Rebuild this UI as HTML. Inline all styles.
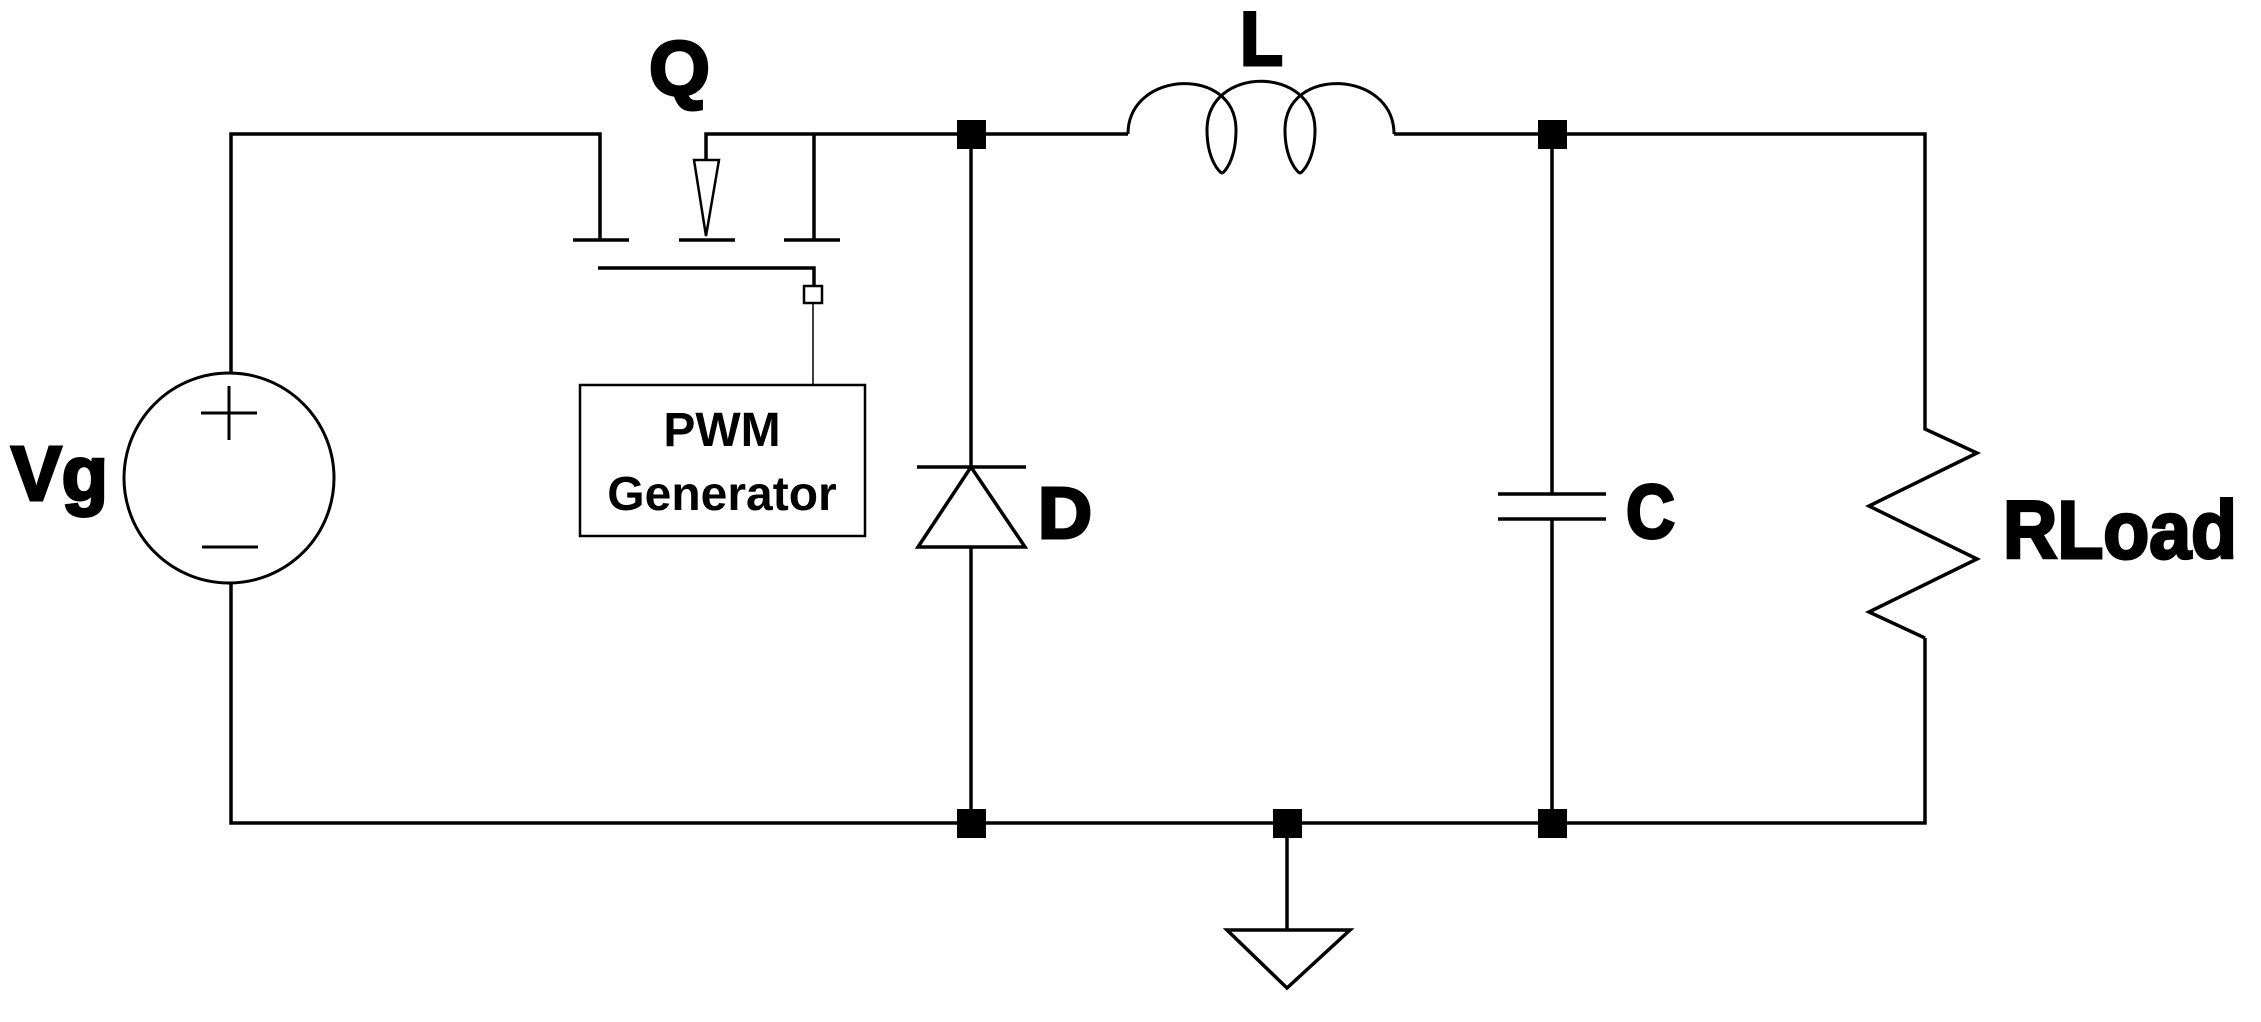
<!DOCTYPE html>
<html><head><meta charset="utf-8"><style>
html,body{margin:0;padding:0;background:#fff;}
svg{display:block;}
.lbl{font-family:"Liberation Sans",sans-serif;font-weight:bold;fill:#000;stroke:#000;stroke-width:3;}
</style></head><body>
<svg width="2261" height="1022" viewBox="0 0 2261 1022" xmlns="http://www.w3.org/2000/svg">
<g fill="none" stroke="#000" stroke-width="3.5" stroke-linejoin="miter">
<polyline points="600,240 600,134 231,134 231,373"/>
<polyline points="231,583 231,823 1925,823 1925,638"/>
<circle cx="229" cy="478" r="105" stroke-width="3"/>
<line x1="201" y1="413" x2="257" y2="413" stroke-width="3"/>
<line x1="229" y1="386" x2="229" y2="440" stroke-width="3"/>
<line x1="202" y1="547" x2="258" y2="547" stroke-width="3"/>
<line x1="573" y1="240" x2="629" y2="240"/>
<line x1="679" y1="240" x2="735" y2="240"/>
<line x1="784" y1="240" x2="840" y2="240"/>
<polyline points="706,160 706,134 1128,134"/>
<line x1="814" y1="134" x2="814" y2="240"/>
<polygon points="694,160 719,160 706,236" stroke-width="2.5"/>
<polyline points="598,268 814,268 814,285"/>
<rect x="804" y="286" width="18" height="17" stroke-width="2.5"/>
<line x1="813" y1="304" x2="813" y2="385" stroke-width="1.5"/>
<rect x="580" y="385" width="285" height="151" stroke-width="2.5"/>
<line x1="971" y1="134" x2="971" y2="823"/>
<line x1="917" y1="467" x2="1026" y2="467"/>
<polygon points="971,467 918,547 1025,547" fill="#fff"/>
<path d="M1128,134 C1128,70 1236,65 1236,130 C1236,160 1224,173 1222,173 C1220,173 1207,160 1207,130 C1207,65 1315,65 1315,130 C1315,160 1302,173 1300,173 C1298,173 1285,160 1285,130 C1285,65 1394,70 1394,134" stroke-width="3"/>
<polyline points="1394,134 1925,134 1925,429 1977,453 1869,506 1977,559 1869,612 1925,638"/>
<line x1="1552" y1="134" x2="1552" y2="494"/>
<line x1="1552" y1="519" x2="1552" y2="823"/>
<line x1="1498" y1="494" x2="1606" y2="494"/>
<line x1="1498" y1="519" x2="1606" y2="519"/>
<line x1="1287" y1="823" x2="1287" y2="930"/>
<polygon points="1227,930 1350,930 1287,988"/>
</g>
<g fill="#000">
<rect x="957" y="120" width="29" height="29"/>
<rect x="957" y="809" width="29" height="29"/>
<rect x="1538" y="120" width="29" height="29"/>
<rect x="1538" y="809" width="29" height="29"/>
<rect x="1273" y="809" width="29" height="29"/>
</g>
<text class="lbl" x="11" y="500" font-size="77" textLength="97" lengthAdjust="spacingAndGlyphs">Vg</text>
<text class="lbl" x="649" y="95" font-size="77" textLength="61" lengthAdjust="spacingAndGlyphs">Q</text>
<text class="lbl" x="1240" y="65" font-size="76" textLength="43" lengthAdjust="spacingAndGlyphs">L</text>
<text class="lbl" x="1038" y="538" font-size="72" textLength="54" lengthAdjust="spacingAndGlyphs">D</text>
<text class="lbl" x="1626" y="538" font-size="76" textLength="49" lengthAdjust="spacingAndGlyphs">C</text>
<text class="lbl" x="2003" y="558" font-size="82" textLength="234" lengthAdjust="spacingAndGlyphs">RLoad</text>
<text x="722" y="446" font-family="Liberation Sans,sans-serif" font-weight="bold" font-size="48" text-anchor="middle">PWM</text>
<text x="722" y="510" font-family="Liberation Sans,sans-serif" font-weight="bold" font-size="48" text-anchor="middle">Generator</text>
</svg>
</body></html>
